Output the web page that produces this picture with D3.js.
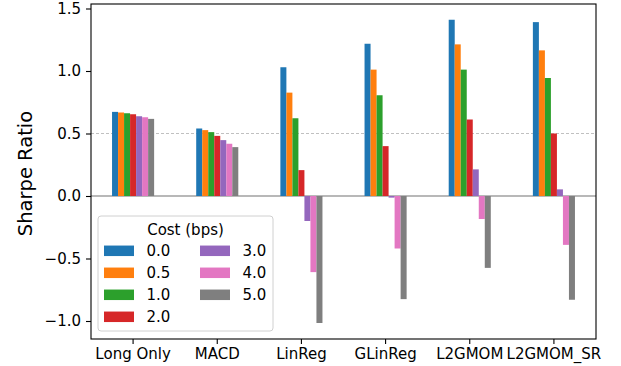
<!DOCTYPE html>
<html>
<head>
<meta charset="utf-8">
<script src="https://cdn.jsdelivr.net/npm/d3@7"></script>
<style>
  body { margin: 0; background: #fff; }
  svg { font-family: "DejaVu Sans", sans-serif; }
</style>
</head>
<body>
<svg id="chart" width="621" height="366"></svg>
<script>
// chart data
const strategies = ['Long Only', 'MACD', 'LinReg', 'GLinReg', 'L2GMOM', 'L2GMOM_SR'];
const costLabels = ['0.0', '0.5', '1.0', '2.0', '3.0', '4.0', '5.0'];
const cost00 = [0.673, 0.540, 1.030, 1.218, 1.410, 1.391];
const cost05 = [0.668, 0.527, 0.827, 1.011, 1.213, 1.165];
const cost10 = [0.662, 0.511, 0.622, 0.806, 1.011, 0.944];
const cost20 = [0.654, 0.481, 0.207, 0.399, 0.612, 0.500];
const cost30 = [0.638, 0.447, -0.200, -0.013, 0.213, 0.053];
const cost40 = [0.630, 0.418, -0.609, -0.420, -0.184, -0.391];
const cost50 = [0.617, 0.391, -1.016, -0.825, -0.575, -0.830];
const yTicks = [-1.0, -0.5, 0.0, 0.5, 1.0, 1.5];

const series = [cost00, cost05, cost10, cost20, cost30, cost40, cost50];
const colors = ['#1f77b4', '#ff7f0e', '#2ca02c', '#d62728', '#9467bd', '#e377c2', '#7f7f7f'];

const svg = d3.select('#chart');
const margin = { top: 4, right: 25, bottom: 27, left: 91 };
const width = +svg.attr('width') - margin.left - margin.right;
const height = +svg.attr('height') - margin.top - margin.bottom;
const g = svg.append('g').attr('transform', `translate(${margin.left}, ${margin.top})`);

const x = d3.scaleBand()
    .domain(strategies)
    .range([0, width])
    .paddingInner(0.5)
    .paddingOuter(0.25);
const xInner = d3.scaleBand()
    .domain(costLabels)
    .range([0, x.bandwidth()]);
const y = d3.scaleLinear()
    .domain([-1.144, 1.536])
    .range([height, 0]);

// reference line at 0.5
g.append('line')
    .attr('x1', 0).attr('x2', width)
    .attr('y1', y(0.5)).attr('y2', y(0.5))
    .attr('stroke', '#b0b0b0')
    .attr('stroke-width', 0.8)
    .attr('stroke-dasharray', '3,2');

// zero line
g.append('line')
    .attr('x1', 0).attr('x2', width)
    .attr('y1', y(0)).attr('y2', y(0))
    .attr('stroke', '#a0a0a0')
    .attr('stroke-width', 1.3);

costLabels.forEach((c, i) => {
  g.append('g')
    .selectAll('rect')
    .data(series[i].map((v, j) => ({ name: strategies[j], value: v })))
    .join('rect')
      .attr('x', (d) => x(d.name) + xInner(c))
      .attr('width', xInner.bandwidth())
      .attr('y', (d) => y(Math.max(0, d.value)))
      .attr('height', (d) => Math.abs(y(d.value) - y(0)))
      .attr('fill', colors[i]);
});

const xAxis = g.append('g')
    .attr('transform', `translate(0, ${height})`)
    .call(d3.axisBottom(x).tickSize(5).tickPadding(4));
const yAxis = g.append('g')
    .call(d3.axisLeft(y).tickValues(yTicks).tickFormat(d3.format('.1f')).tickSize(5).tickPadding(5));
[xAxis, yAxis].forEach((a) => {
  a.select('.domain').remove();
  a.selectAll('text').attr('font-size', 15).attr('fill', '#000')
    .attr('font-family', '"DejaVu Sans", sans-serif');
  a.selectAll('line').attr('stroke', '#000').attr('stroke-width', 1.1);
});

// frame
g.append('rect')
    .attr('width', width).attr('height', height)
    .attr('fill', 'none')
    .attr('stroke', '#000')
    .attr('stroke-width', 1.1);

svg.append('text')
    .attr('transform', `translate(32, ${margin.top + y(0.18)}) rotate(-90)`)
    .attr('text-anchor', 'middle')
    .attr('font-size', 19.5)
    .text('Sharpe Ratio');

// legend
const leg = svg.append('g').attr('transform', 'translate(98, 216)');
leg.append('rect')
    .attr('width', 175).attr('height', 115)
    .attr('rx', 3)
    .attr('fill', '#fff').attr('fill-opacity', 0.8)
    .attr('stroke', '#d0d0d0');
leg.append('text')
    .attr('x', 87.5).attr('y', 18.5)
    .attr('text-anchor', 'middle')
    .attr('font-size', 15)
    .text('Cost (bps)');
costLabels.forEach((c, i) => {
  const col = i < 4 ? 0 : 1;
  const row = i < 4 ? i : i - 4;
  const item = leg.append('g')
      .attr('transform', `translate(${6 + col * 96}, ${34.8 + row * 22})`);
  item.append('rect')
      .attr('y', -5.25).attr('width', 30).attr('height', 10.5)
      .attr('fill', colors[i]);
  item.append('text')
      .attr('x', 42.5).attr('dy', '0.36em')
      .attr('font-size', 15)
      .text(c);
});
</script>
</body>
</html>
